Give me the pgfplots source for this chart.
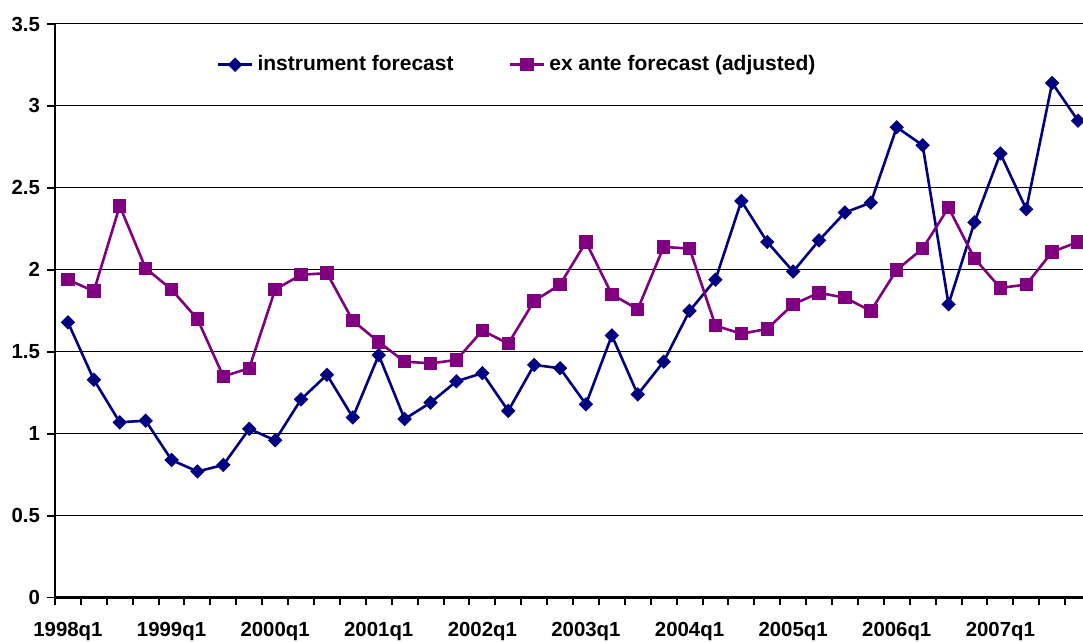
\documentclass[border=0pt]{standalone}
\usepackage{fontspec}
\setmainfont{Liberation Sans}
\usepackage{pgfplots}
\pgfplotsset{compat=1.18}
\usepackage{pgfplotstable}

\definecolor{instr}{HTML}{000080}
\definecolor{exante}{HTML}{800080}

% quarter index (0 = 1998q1), instrument forecast, ex ante forecast (adjusted)
\pgfplotstableread{
q instr exante
0  1.68 1.94
1  1.33 1.87
2  1.07 2.39
3  1.08 2.01
4  0.84 1.88
5  0.77 1.70
6  0.81 1.35
7  1.03 1.40
8  0.96 1.88
9  1.21 1.97
10 1.36 1.98
11 1.10 1.69
12 1.48 1.56
13 1.09 1.44
14 1.19 1.43
15 1.32 1.45
16 1.37 1.63
17 1.14 1.55
18 1.42 1.81
19 1.40 1.91
20 1.18 2.17
21 1.60 1.85
22 1.24 1.76
23 1.44 2.14
24 1.75 2.13
25 1.94 1.66
26 2.42 1.61
27 2.17 1.64
28 1.99 1.79
29 2.18 1.86
30 2.35 1.83
31 2.41 1.75
32 2.87 2.00
33 2.76 2.13
34 1.79 2.38
35 2.29 2.07
36 2.71 1.89
37 2.37 1.91
38 3.14 2.11
39 2.91 2.17
}\forecasts

\begin{document}
\begin{tikzpicture}
\begin{axis}[
  name=ax,
  scale only axis,
  width=518pt, height=286.85pt,
  xmin=-0.5, xmax=39.5,
  ymin=0, ymax=3.5,
  axis x line*=bottom, axis y line*=left,
  x axis line style={line width=1.4pt,-},
  y axis line style={line width=1.1pt,-},
  xtick={0,4,...,36},
  xticklabels={1998q1,1999q1,2000q1,2001q1,2002q1,2003q1,2004q1,2005q1,2006q1,2007q1},
  minor xtick={-0.5,0.5,...,39.5},
  major x tick style={draw=none},
  minor x tick style={line width=1pt,black},
  ytick={0,0.5,1,1.5,2,2.5,3,3.5},
  major y tick style={line width=0.8pt,black},
  tick align=outside,
  major tick length=4pt,
  minor tick length=3.5pt,
  ymajorgrids,
  major grid style={black,line width=0.5pt},
  /pgf/number format/assume math mode=true,
  tick label style={font=\bfseries\fontsize{10.2}{12}\selectfont},
  xticklabel style={yshift=-4.5pt},
  legend columns=2,
  legend cell align=left,
  legend style={draw=none, fill=none, at={(0.150,0.929)}, anchor=west,
    font=\bfseries\fontsize{10.5}{12}\selectfont,
    /tikz/every even column/.append style={column sep=25.5pt}},
]
\addplot[instr, line width=1.3pt, mark=square*, mark size=1.9pt,
  mark options={solid, rotate=45}] table[x=q, y=instr] {\forecasts};
\addlegendentry{instrument forecast}
\addplot[exante, line width=1.3pt, mark=square*, mark size=2.7pt,
  mark options={solid}] table[x=q, y=exante] {\forecasts};
\addlegendentry{ex ante forecast (adjusted)}
\end{axis}
\pgfresetboundingbox
\useasboundingbox ([xshift=-27.5pt,yshift=-22.15pt]ax.south west)
  rectangle ([xshift=-4pt,yshift=12pt]ax.north east);
\end{tikzpicture}
\end{document}
